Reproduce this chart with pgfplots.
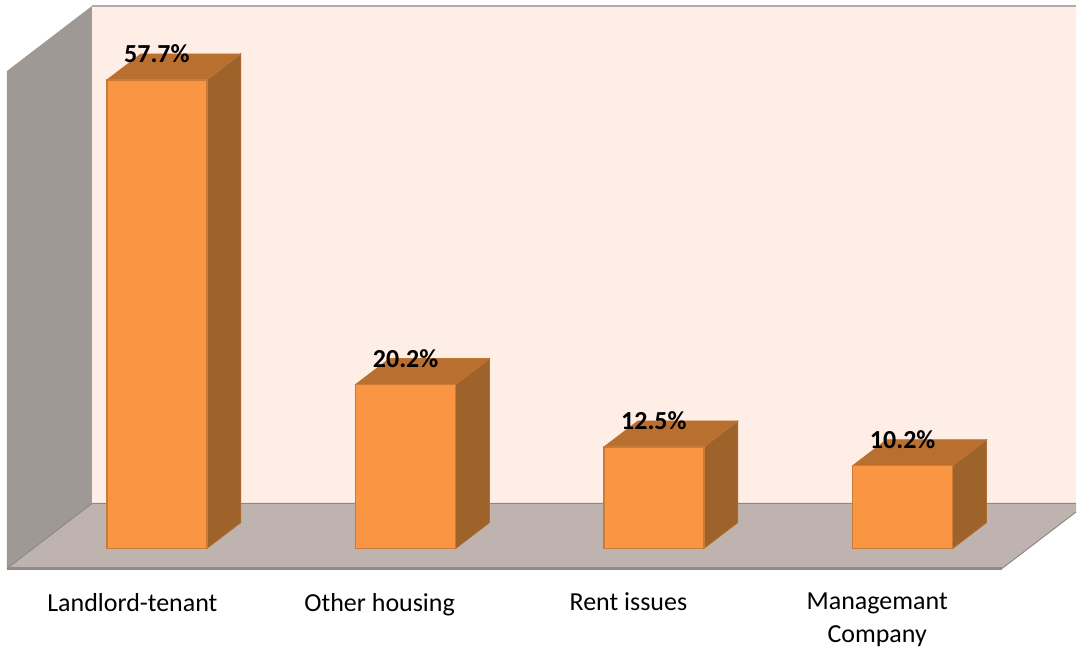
\documentclass[border=0pt]{standalone}
\usepackage{fontspec}
\setmainfont{Carlito}
\usepackage{pgfplots}
\pgfplotsset{compat=1.18}
\definecolor{backwall}{HTML}{FEEEE6}
\definecolor{sidewall}{HTML}{9F9995}
\definecolor{floorc}{HTML}{BEB3AE}
\definecolor{edgec}{HTML}{B3ABA8}
\definecolor{flooredge}{HTML}{8E8C8B}
\definecolor{barfront}{HTML}{FA9544}
\definecolor{barline}{HTML}{C97B38}
\definecolor{bartop}{HTML}{B96F30}
\definecolor{barside}{HTML}{9E622B}
\definecolor{topline}{HTML}{BD7434}
\definecolor{sideline}{HTML}{AD6C30}
\begin{document}
\begin{tikzpicture}
\begin{axis}[
  scale only axis, width=1077pt, height=653pt,
  xmin=0, xmax=1077, ymin=-12.795, ymax=67.54,
  axis line style={draw=none}, tick style={draw=none}, clip=false,
  ytick=\empty, major tick length=0pt,
  xtick={132.5,380,629,878},
  xticklabels={Landlord-tenant,Other housing,Rent issues,Managemant\\Company},
  xticklabel style={align=center, anchor=north, yshift=63pt,
    font=\fontsize{26}{33}\selectfont},
  /pgf/number format/assume math mode=true,
]
% walls and floor (x in image pixels, y in percent)
\addplot[fill=backwall, draw=none] coordinates {(92,5.54) (92,66.8) (1077,66.8) (1077,5.54)} --cycle;
\addplot[edgec, line width=2pt] coordinates {(92,66.8) (1077,66.8)};
\addplot[fill=sidewall, draw=none] coordinates {(7,-2.46) (7,58.8) (92,66.8) (92,5.54)} --cycle;
\addplot[fill=floorc, draw=none] coordinates {(7,-2.46) (92,5.54) (1077,5.54) (1077,4.5) (1003,-2.46)} --cycle;
\addplot[edgec!80!black, line width=1pt] coordinates {(7,-2.46) (92,5.54) (1077,5.54)};
\addplot[edgec!80!black, line width=1pt] coordinates {(1003,-2.46) (1077,4.5)};
\addplot[flooredge, line width=2.5pt] coordinates {(7,-2.46) (1003,-2.46)};
% bar sides
\addplot[fill=barside, draw=sideline, line width=0.8pt] coordinates {(207,0) (241,3.2) (241,60.9) (207,57.7)} --cycle;
\addplot[fill=barside, draw=sideline, line width=0.8pt] coordinates {(456,0) (490,3.2) (490,23.4) (456,20.2)} --cycle;
\addplot[fill=barside, draw=sideline, line width=0.8pt] coordinates {(704.5,0) (738.5,3.2) (738.5,15.7) (704.5,12.5)} --cycle;
\addplot[fill=barside, draw=sideline, line width=0.8pt] coordinates {(953.5,0) (987.5,3.2) (987.5,13.4) (953.5,10.2)} --cycle;
% bar tops
\addplot[fill=bartop, draw=topline, line width=0.8pt] coordinates {(107,57.7) (141,60.9) (241,60.9) (207,57.7)} --cycle;
\addplot[fill=bartop, draw=topline, line width=0.8pt] coordinates {(356,20.2) (390,23.4) (490,23.4) (456,20.2)} --cycle;
\addplot[fill=bartop, draw=topline, line width=0.8pt] coordinates {(604.5,12.5) (638.5,15.7) (738.5,15.7) (704.5,12.5)} --cycle;
\addplot[fill=bartop, draw=topline, line width=0.8pt] coordinates {(853.5,10.2) (887.5,13.4) (987.5,13.4) (953.5,10.2)} --cycle;
% bar fronts
\addplot[ybar, bar width=100pt, fill=barfront, draw=barline, line width=1.4pt,
  nodes near coords={\pgfmathprintnumber[fixed, fixed zerofill, precision=1]{\pgfplotspointmeta}\%},
  nodes near coords style={anchor=center, yshift=26pt, text=black,
    font=\fontsize{26}{26}\selectfont\bfseries},
  point meta=y,
] coordinates {(157,57.7) (406,20.2) (654.5,12.5) (903.5,10.2)};
\end{axis}
\end{tikzpicture}
\end{document}
